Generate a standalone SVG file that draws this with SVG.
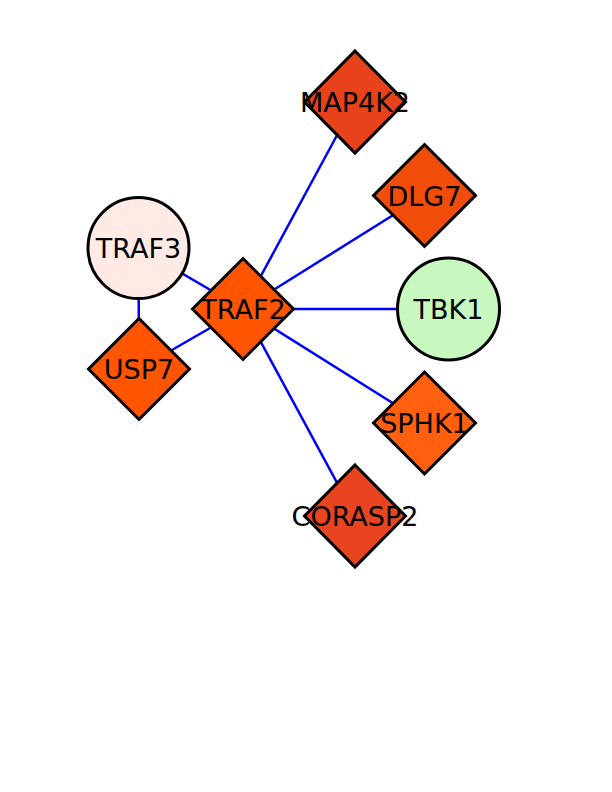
<svg xmlns="http://www.w3.org/2000/svg" width="612" height="792" viewBox="0 0 612 792">
<style>
.e{stroke:#0000FF;stroke-width:2.5;fill:none}
.n{stroke:#000;stroke-width:3}
.t{font-family:"DejaVu Sans",sans-serif;font-size:27px;fill:#000;text-anchor:middle}
</style>
<rect width="612" height="792" fill="#fff"/>
<g id="edges">
<line class="e" x1="243" y1="309" x2="355" y2="102"/>
<line class="e" x1="243" y1="309" x2="424.5" y2="195.5"/>
<line class="e" x1="243" y1="309" x2="448.5" y2="309"/>
<line class="e" x1="243" y1="309" x2="424.5" y2="423"/>
<line class="e" x1="243" y1="309" x2="355" y2="516"/>
<line class="e" x1="243" y1="309" x2="138.5" y2="248"/>
<line class="e" x1="243" y1="309" x2="139" y2="369"/>
<line class="e" x1="138.5" y1="248" x2="139" y2="369"/>
</g>
<g id="TRAF3"><circle class="n" cx="138.5" cy="248" r="50.5" fill="#FFEAE6"/><text class="t" x="138.5" y="258">TRAF3</text></g>
<g id="USP7"><polygon class="n" points="139,318.5 189.5,369 139,419.5 88.5,369" fill="#FF5500"/><text class="t" x="139" y="379">USP7</text></g>
<g id="TRAF2"><polygon class="n" points="243,258.5 293.5,309 243,359.5 192.5,309" fill="#FF5500"/><text class="t" x="243" y="319">TRAF2</text></g>
<g id="MAP4K2"><polygon class="n" points="355,51 405.5,102 355,153 304.5,102" fill="#E8421A"/><text class="t" x="355" y="112">MAP4K2</text></g>
<g id="DLG7"><polygon class="n" points="424.5,144.5 475.5,195.5 424.5,246.5 373.5,195.5" fill="#F04C0A"/><text class="t" x="424.5" y="205.5">DLG7</text></g>
<g id="TBK1"><circle class="n" cx="448.5" cy="309" r="51" fill="#C8F8C0"/><text class="t" x="448.5" y="319">TBK1</text></g>
<g id="SPHK1"><polygon class="n" points="424.5,372 475.5,423 424.5,474 373.5,423" fill="#FF6010"/><text class="t" x="424.5" y="433">SPHK1</text></g>
<g id="CORASP2"><polygon class="n" points="355,465 405.5,516 355,567 304.5,516" fill="#E84420"/><text class="t" x="355" y="526">CORASP2</text></g>
</svg>
